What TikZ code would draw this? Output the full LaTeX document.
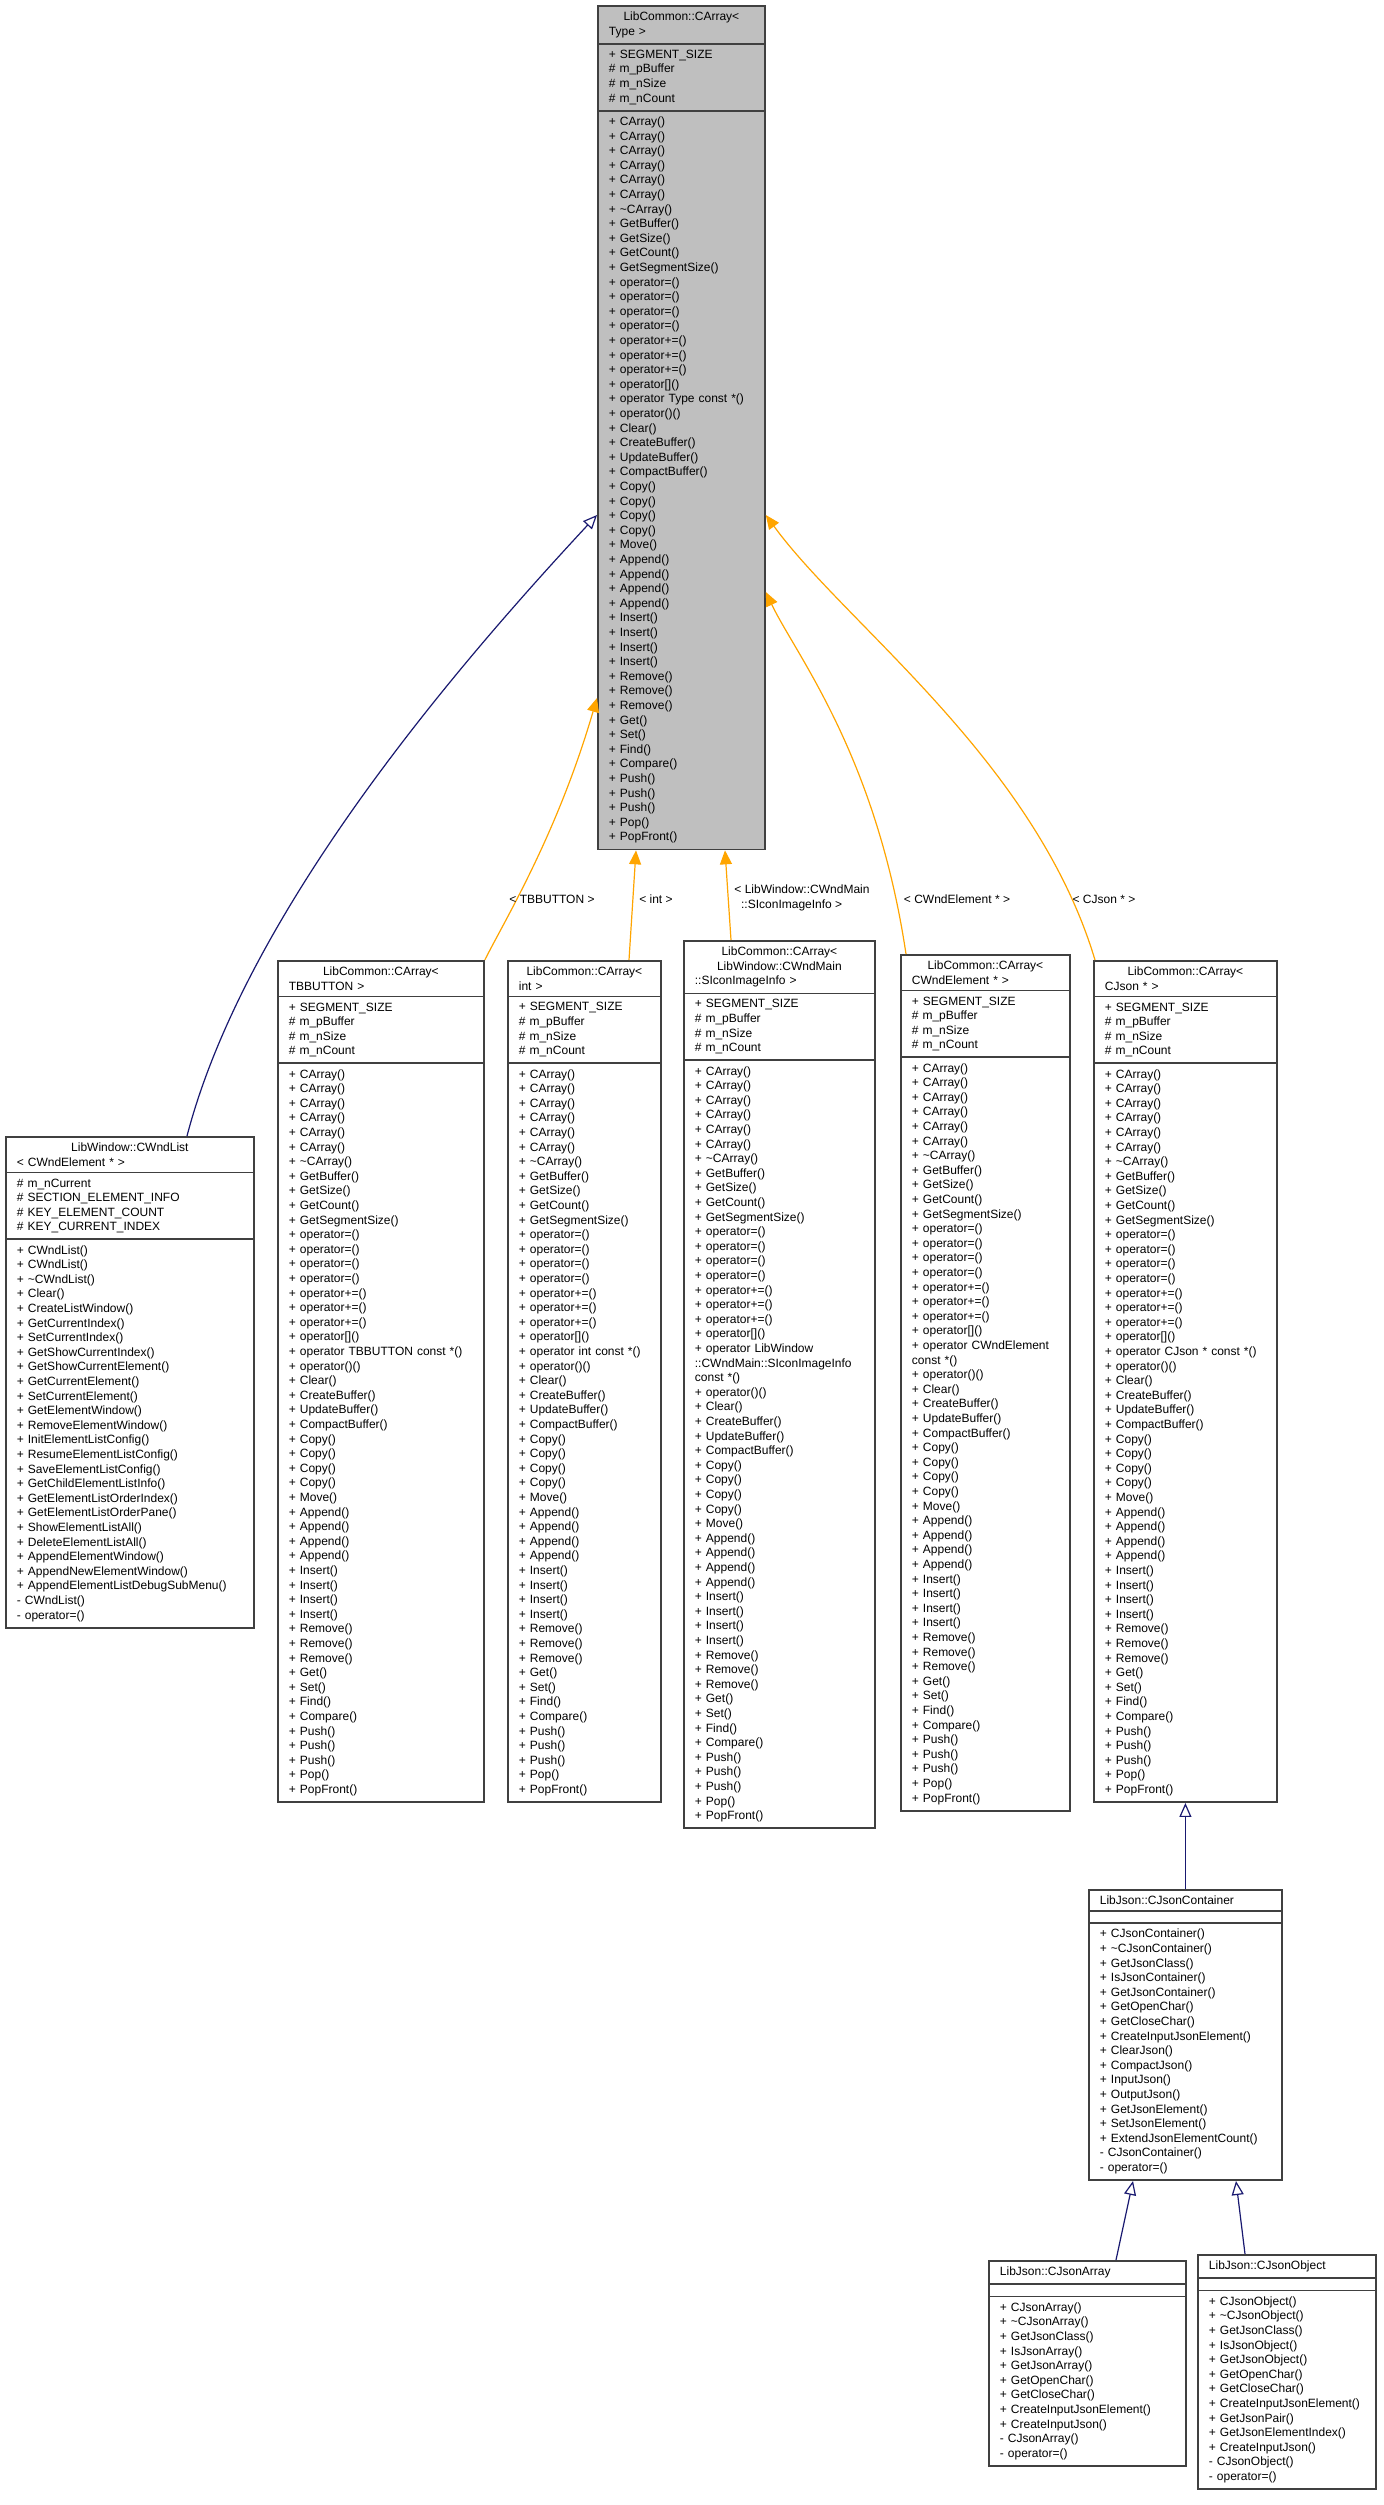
\documentclass[tikz,border=0pt]{standalone}
\usepackage{fontspec}
\setmainfont{Liberation Sans}
\usetikzlibrary{shapes.multipart,arrows.meta,calc}
\definecolor{edgeor}{HTML}{FFA500}
\definecolor{edgenv}{HTML}{191970}
\definecolor{topgray}{HTML}{BFBFBF}
\newcommand\camethods[1]{+ CArray()\\+ CArray()\\+ CArray()\\+ CArray()\\+ CArray()\\+ CArray()\\+ \textasciitilde CArray()\\+ GetBuffer()\\+ GetSize()\\+ GetCount()\\+ GetSegmentSize()\\+ operator=()\\+ operator=()\\+ operator=()\\+ operator=()\\+ operator+=()\\+ operator+=()\\+ operator+=()\\+ operator[]()\\#1\\+ operator()()\\+ Clear()\\+ CreateBuffer()\\+ UpdateBuffer()\\+ CompactBuffer()\\+ Copy()\\+ Copy()\\+ Copy()\\+ Copy()\\+ Move()\\+ Append()\\+ Append()\\+ Append()\\+ Append()\\+ Insert()\\+ Insert()\\+ Insert()\\+ Insert()\\+ Remove()\\+ Remove()\\+ Remove()\\+ Get()\\+ Set()\\+ Find()\\+ Compare()\\+ Push()\\+ Push()\\+ Push()\\+ Pop()\\+ PopFront()}
\newcommand\caattrs{+ SEGMENT\_SIZE\\\# m\_pBuffer\\\# m\_nSize\\\# m\_nCount}
\begin{document}
\begin{tikzpicture}[x=0.5pt,y=-0.5pt,
  cls/.style={rectangle split, rectangle split parts=3, draw=black!75, line width=0.9pt,
    text width=#1, inner xsep=5.5pt, inner ysep=2.6pt, fill=white, anchor=north west,
    font=\fontsize{6}{7.3}\selectfont},
  inh/.style={-{Triangle[open,length=7pt,width=6pt]}, draw=edgenv, line width=0.6pt},
  tpl/.style={-{Triangle[length=7pt,width=6pt]}, draw=edgeor, line width=0.6pt},
  lbl/.style={font=\fontsize{6}{7.3}\selectfont, align=left}]
\useasboundingbox[fill=white] (0,0) rectangle (1383,2505);

\node[cls=72.5pt, fill=topgray] (top) at (597,5) {\centering LibCommon::CArray<\\Type >\nodepart{two}\raggedright\caattrs\nodepart{three}\raggedright\camethods{+ operator Type const *()}};

\node[cls=113pt] (cwl) at (5,1136) {\centering LibWindow::CWndList\\< CWndElement * >\nodepart{two}\raggedright\# m\_nCurrent\\\# SECTION\_ELEMENT\_INFO\\\# KEY\_ELEMENT\_COUNT\\\# KEY\_CURRENT\_INDEX\nodepart{three}\raggedright + CWndList()\\+ CWndList()\\+ \textasciitilde CWndList()\\+ Clear()\\+ CreateListWindow()\\+ GetCurrentIndex()\\+ SetCurrentIndex()\\+ GetShowCurrentIndex()\\+ GetShowCurrentElement()\\+ GetCurrentElement()\\+ SetCurrentElement()\\+ GetElementWindow()\\+ RemoveElementWindow()\\+ InitElementListConfig()\\+ ResumeElementListConfig()\\+ SaveElementListConfig()\\+ GetChildElementListInfo()\\+ GetElementListOrderIndex()\\+ GetElementListOrderPane()\\+ ShowElementListAll()\\+ DeleteElementListAll()\\+ AppendElementWindow()\\+ AppendNewElementWindow()\\+ AppendElementListDebugSubMenu()\\- CWndList()\\- operator=()};

\node[cls=92pt] (tb) at (277,960) {\centering LibCommon::CArray<\\TBBUTTON >\nodepart{two}\raggedright\caattrs\nodepart{three}\raggedright\camethods{+ operator TBBUTTON const *()}};

\node[cls=65.5pt] (int) at (507,960) {\centering LibCommon::CArray<\\int >\nodepart{two}\raggedright\caattrs\nodepart{three}\raggedright\camethods{+ operator int const *()}};

\node[cls=84.5pt] (sii) at (683,940) {\centering LibCommon::CArray<\\LibWindow::CWndMain\\::SIconImageInfo >\nodepart{two}\raggedright\caattrs\nodepart{three}\raggedright\camethods{+ operator LibWindow\\::CWndMain::SIconImageInfo\\const *()}};

\node[cls=73.5pt] (cwe) at (900,954) {\centering LibCommon::CArray<\\CWndElement * >\nodepart{two}\raggedright\caattrs\nodepart{three}\raggedright\camethods{+ operator CWndElement\\* const *()}};

\node[cls=80.5pt] (cj) at (1093,960) {\centering LibCommon::CArray<\\CJson * >\nodepart{two}\raggedright\caattrs\nodepart{three}\raggedright\camethods{+ operator CJson * const *()}};

\node[cls=85.5pt] (jc) at (1088,1889) {\centering LibJson::CJsonContainer\nodepart{two}\mbox{}\nodepart{three}\raggedright + CJsonContainer()\\+ \textasciitilde CJsonContainer()\\+ GetJsonClass()\\+ IsJsonContainer()\\+ GetJsonContainer()\\+ GetOpenChar()\\+ GetCloseChar()\\+ CreateInputJsonElement()\\+ ClearJson()\\+ CompactJson()\\+ InputJson()\\+ OutputJson()\\+ GetJsonElement()\\+ SetJsonElement()\\+ ExtendJsonElementCount()\\- CJsonContainer()\\- operator=()};

\node[cls=87.5pt] (ja) at (988,2260) {\centering LibJson::CJsonArray\nodepart{two}\mbox{}\nodepart{three}\raggedright + CJsonArray()\\+ \textasciitilde CJsonArray()\\+ GetJsonClass()\\+ IsJsonArray()\\+ GetJsonArray()\\+ GetOpenChar()\\+ GetCloseChar()\\+ CreateInputJsonElement()\\+ CreateInputJson()\\- CJsonArray()\\- operator=()};

\node[cls=78pt] (jo) at (1197,2254) {\centering LibJson::CJsonObject\nodepart{two}\mbox{}\nodepart{three}\raggedright + CJsonObject()\\+ \textasciitilde CJsonObject()\\+ GetJsonClass()\\+ IsJsonObject()\\+ GetJsonObject()\\+ GetOpenChar()\\+ GetCloseChar()\\+ CreateInputJsonElement()\\+ GetJsonPair()\\+ GetJsonElementIndex()\\+ CreateInputJson()\\- CJsonObject()\\- operator=()};

% edges
\draw[inh] ($(cwl.north west)+(182,0)$) .. controls ++(60,-230) and ($(top.north west)+(-130,650)$) .. ($(top.north west)+(0,510)$);
\draw[tpl] (tb.north east) .. controls ++(20,-40) and ($(top.north west)+(-40,830)$) .. ($(top.north west)+(0,693)$);
\draw[tpl] ($(int.north west)+(122,0)$) -- ($(top.south west)+(39,0)$);
\draw[tpl] ($(sii.north west)+(48,0)$) -- ($(top.south west)+(128,0)$);
\draw[tpl] ($(cwe.north west)+(6,0)$) .. controls ++(-30,-200) and ($(top.north east)+(30,650)$) .. ($(top.north east)+(0,587)$);
\draw[tpl] ($(cj.north west)+(2,0)$) .. controls ++(-60,-200) and ($(top.north east)+(80,620)$) .. ($(top.north east)+(0,510)$);
\draw[inh] (jc.north) -- (cj.south);
\draw[inh] ($(ja.north west)+(128,0)$) -- ($(jc.south west)+(45,0)$);
\draw[inh] ($(jo.north west)+(48,0)$) -- ($(jc.south west)+(148,0)$);

\node[lbl] (l1) at (552,899) {< TBBUTTON >};
\node[lbl] (l2) at (656,899) {< int >};
\node[lbl] (l3) at (802,898) {< LibWindow::CWndMain\\\ \ ::SIconImageInfo >};
\node[lbl] (l4) at (957,899) {< CWndElement * >};
\node[lbl] (l5) at (1104,899) {< CJson * >};
\end{tikzpicture}
\end{document}
